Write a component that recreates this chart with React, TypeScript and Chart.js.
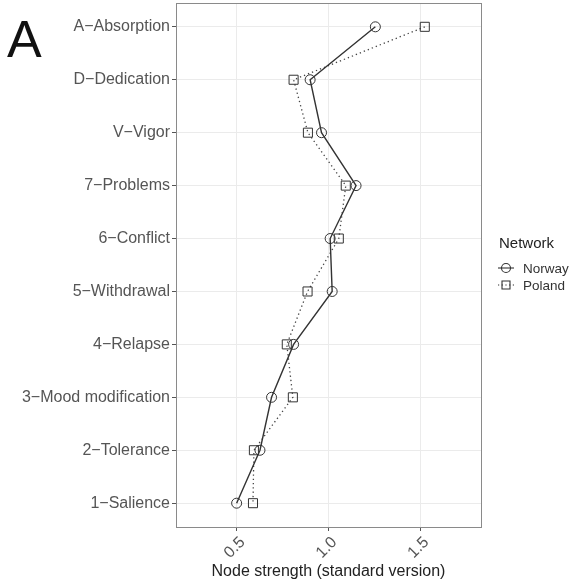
import React, { useEffect, useRef } from "react";
import { Chart, registerables } from "chart.js";

Chart.register(...registerables);

const categories = [
  "A−Absorption",
  "D−Dedication",
  "V−Vigor",
  "7−Problems",
  "6−Conflict",
  "5−Withdrawal",
  "4−Relapse",
  "3−Mood modification",
  "2−Tolerance",
  "1−Salience",
];
const norway = [1.255, 0.9, 0.962, 1.15, 1.009, 1.02, 0.81, 0.69, 0.627, 0.5];
const poland = [1.524, 0.81, 0.888, 1.094, 1.056, 0.886, 0.773, 0.806, 0.594, 0.589];
const xTicks = [0.5, 1.0, 1.5];
const xTickLabels = ["0.5", "1.0", "1.5"];
const seriesNames = ["Norway", "Poland"];

const FONT = "'Liberation Sans', Arial, sans-serif";

export default function App() {
  const ref = useRef<HTMLCanvasElement | null>(null);
  useEffect(() => {
    document.body.style.margin = "0";
    const canvas = ref.current!;
    const decor = {
      id: "decor",
      afterDraw(chart: any) {
        const ctx = chart.ctx;
        const a = chart.chartArea;
        ctx.save();
        ctx.strokeStyle = "#8a8a8a";
        ctx.lineWidth = 1;
        ctx.strokeRect(Math.round(a.left) + 0.5, Math.round(a.top) + 0.5, Math.round(a.right - a.left), Math.round(a.bottom - a.top));
        // panel letter
        ctx.fillStyle = "#111";
        ctx.font = `52px ${FONT}`;
        ctx.textBaseline = "alphabetic";
        ctx.textAlign = "left";
        ctx.fillText("A", 7, 57);
        // legend
        ctx.fillStyle = "#222";
        ctx.font = `15px ${FONT}`;
        ctx.textBaseline = "middle";
        ctx.fillText("Network", 499, 244);
        ctx.font = `13.5px ${FONT}`;
        const items = [
          { y: 268, dash: [] as number[], style: "circle" },
          { y: 285, dash: [1.2, 2.5], style: "rect" },
        ];
        items.forEach((it, i) => {
          ctx.strokeStyle = "#333";
          ctx.lineWidth = 1.1;
          ctx.setLineDash(it.dash);
          ctx.beginPath();
          ctx.moveTo(498, it.y);
          ctx.lineTo(514, it.y);
          ctx.stroke();
          ctx.setLineDash([]);
          ctx.beginPath();
          if (it.style === "circle") ctx.arc(506, it.y, 4.5, 0, Math.PI * 2);
          else ctx.rect(502, it.y - 4, 8, 8);
          ctx.stroke();
          ctx.fillStyle = "#333";
          ctx.fillText(seriesNames[i], 523, it.y + 1);
        });
        ctx.restore();
      },
    };
    const chart = new Chart(canvas, {
      type: "scatter",
      data: {
        datasets: [
          {
            label: seriesNames[0],
            data: norway.map((v, i) => ({ x: v, y: i })),
            showLine: true,
            borderColor: "#333",
            borderWidth: 1.4,
            pointStyle: "circle",
            pointRadius: 5,
            pointBorderColor: "#333",
            pointBorderWidth: 1,
            pointBackgroundColor: "rgba(0,0,0,0)",
          },
          {
            label: seriesNames[1],
            data: poland.map((v, i) => ({ x: v, y: i })),
            showLine: true,
            borderColor: "#444",
            borderWidth: 1.3,
            borderDash: [1.3, 3],
            pointStyle: "rect",
            pointRadius: 6.4,
            pointBorderColor: "#333",
            pointBorderWidth: 1,
            pointBackgroundColor: "rgba(0,0,0,0)",
          },
        ],
      },
      options: {
        animation: false,
        responsive: false,
        maintainAspectRatio: false,
        layout: { autoPadding: false, padding: { top: 3, right: 91, left: 0, bottom: 0 } },
        plugins: { legend: { display: false }, tooltip: { enabled: false } },
        scales: {
          x: {
            type: "linear",
            min: 0.17,
            max: 1.83,
            afterBuildTicks: (s: any) => {
              s.ticks = xTicks.map((v) => ({ value: v }));
            },
            afterFit: (s: any) => {
              s.height = 55;
              s.paddingLeft = 0;
              s.paddingRight = 0;
            },
            grid: { color: "#ebebeb", lineWidth: 1, tickColor: "#555", tickLength: 4, drawTicks: true },
            border: { display: false },
            ticks: {
              minRotation: 45,
              maxRotation: 45,
              padding: 2,
              labelOffset: 6,
              color: "#555",
              font: { family: FONT, size: 16 },
              callback: (v: any) => {
                const i = xTicks.indexOf(Number(v));
                return i >= 0 ? xTickLabels[i] : "";
              },
            },
            title: {
              display: true,
              text: "Node strength (standard version)",
              color: "#222",
              font: { family: FONT, size: 16 },
              padding: { top: 0, bottom: 1 },
            },
          },
          y: {
            type: "linear",
            reverse: true,
            min: -0.45,
            max: 9.45,
            afterBuildTicks: (s: any) => {
              s.ticks = categories.map((_, i) => ({ value: i }));
            },
            afterFit: (s: any) => {
              s.width = 176;
              s.paddingTop = 0;
              s.paddingBottom = 0;
            },
            grid: { color: "#ebebeb", lineWidth: 1, tickColor: "#555", tickLength: 4, drawTicks: true },
            border: { display: false },
            ticks: {
              padding: 2,
              color: "#555",
              font: { family: FONT, size: 16 },
              callback: (v: any) => categories[Number(v)] ?? "",
            },
          },
        },
      },
      plugins: [decor],
    });
    return () => chart.destroy();
  }, []);
  return (
    <div style={{ width: 572, height: 582 }}>
      <canvas ref={ref} width={572} height={582} style={{ display: "block" }} />
    </div>
  );
}
